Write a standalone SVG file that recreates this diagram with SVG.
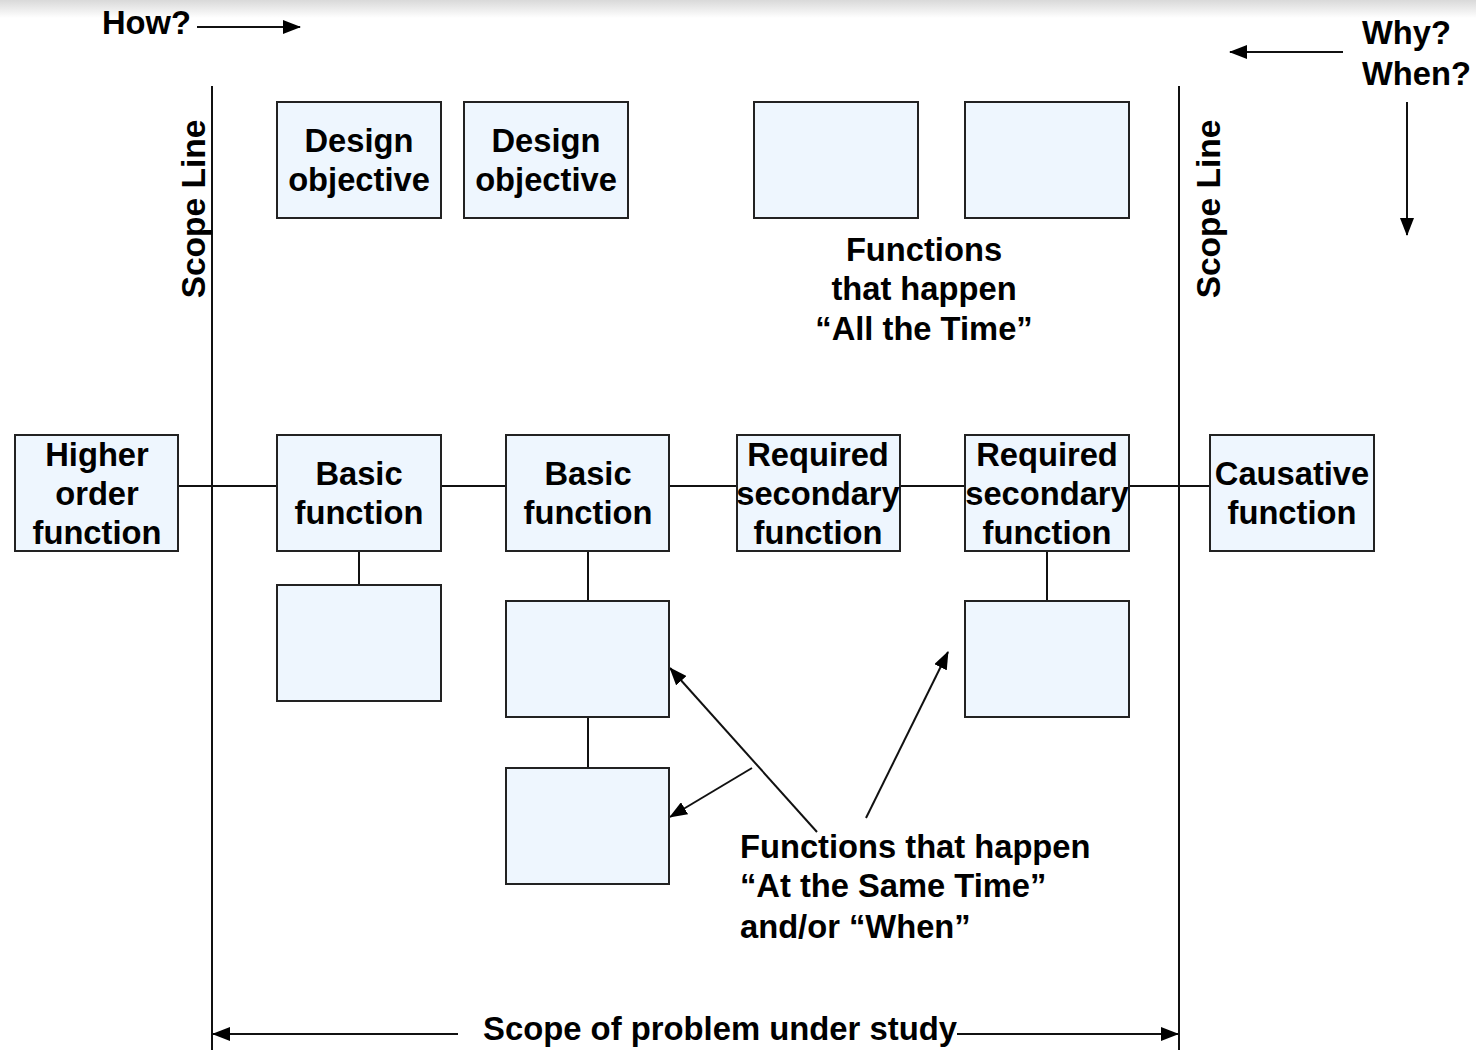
<svg xmlns="http://www.w3.org/2000/svg" width="1476" height="1050" viewBox="0 0 1476 1050">
  <defs>
    <linearGradient id="topShade" x1="0" y1="0" x2="0" y2="1">
      <stop offset="0" stop-color="#d9d9d9"/>
      <stop offset="1" stop-color="#ffffff"/>
    </linearGradient>
    <marker id="arrowL" viewBox="0 0 18 14" refX="17" refY="7" markerWidth="18" markerHeight="14" markerUnits="userSpaceOnUse" orient="auto-start-reverse">
      <path d="M0,0 L18,7 L0,14 z" fill="#000"/>
    </marker>
  </defs>
  <style>
    .box { fill: #eef6fe; stroke: #222; stroke-width: 2; }
    .t { font-family: "Liberation Sans", Arial, sans-serif; font-weight: bold; font-size: 32.7px; fill: #000; }
    .c { text-anchor: middle; }
    .ln { stroke: #111; stroke-width: 2; fill: none; }
    .ar { stroke: #111; stroke-width: 2; fill: none; marker-end: url(#arrowL); }
  </style>

  <rect width="1476" height="1050" fill="#fff"/>
  <rect width="1476" height="18" fill="url(#topShade)"/>

  <!-- scope lines -->
  <g id="scope-lines">
    <line class="ln" x1="212" y1="86" x2="212" y2="1050"/>
    <line class="ln" x1="1179" y1="86" x2="1179" y2="1050"/>
    <text class="t c" transform="translate(205,209) rotate(-90)" style="font-size:33.5px">Scope Line</text>
    <text class="t c" transform="translate(1220,209) rotate(-90)" style="font-size:33.5px">Scope Line</text>
  </g>

  <!-- direction cues -->
  <g id="how">
    <text class="t" x="102" y="34">How?</text>
    <line class="ar" x1="197" y1="27" x2="300" y2="27"/>
  </g>
  <g id="why-when">
    <text class="t" x="1362" y="44">Why?</text>
    <text class="t" x="1362" y="85">When?</text>
    <line class="ar" x1="1343" y1="52" x2="1230" y2="52"/>
    <line class="ar" x1="1407" y1="102" x2="1407" y2="235"/>
  </g>

  <!-- connectors -->
  <g id="connectors">
    <line class="ln" x1="178" y1="486" x2="1210" y2="486"/>
    <line class="ln" x1="359" y1="551" x2="359" y2="585"/>
    <line class="ln" x1="588" y1="551" x2="588" y2="601"/>
    <line class="ln" x1="588" y1="717" x2="588" y2="768"/>
    <line class="ln" x1="1047" y1="551" x2="1047" y2="601"/>
    <line class="ar" x1="817" y1="832" x2="670" y2="668"/>
    <line class="ar" x1="752" y1="768" x2="670" y2="817"/>
    <line class="ar" x1="866" y1="818" x2="948" y2="652"/>
    <line class="ar" x1="458" y1="1034" x2="213" y2="1034"/>
    <line class="ar" x1="957" y1="1034" x2="1178" y2="1034"/>
  </g>

  <!-- top row -->
  <g id="design-objective-1">
    <rect class="box" x="277" y="102" width="164" height="116"/>
    <text class="t c" x="359" y="152">Design</text>
    <text class="t c" x="359" y="191">objective</text>
  </g>
  <g id="design-objective-2">
    <rect class="box" x="464" y="102" width="164" height="116"/>
    <text class="t c" x="546" y="152">Design</text>
    <text class="t c" x="546" y="191">objective</text>
  </g>
  <g id="all-time-1">
    <rect class="box" x="754" y="102" width="164" height="116"/>
  </g>
  <g id="all-time-2">
    <rect class="box" x="965" y="102" width="164" height="116"/>
  </g>
  <g id="all-time-label">
    <text class="t c" x="924" y="261">Functions</text>
    <text class="t c" x="924" y="300">that happen</text>
    <text class="t c" x="924" y="340">“All the Time”</text>
  </g>

  <!-- main row -->
  <g id="higher-order">
    <rect class="box" x="15" y="435" width="163" height="116"/>
    <text class="t c" x="97" y="466">Higher</text>
    <text class="t c" x="97" y="505">order</text>
    <text class="t c" x="97" y="544">function</text>
  </g>
  <g id="basic-1">
    <rect class="box" x="277" y="435" width="164" height="116"/>
    <text class="t c" x="359" y="485">Basic</text>
    <text class="t c" x="359" y="524">function</text>
  </g>
  <g id="basic-2">
    <rect class="box" x="506" y="435" width="163" height="116"/>
    <text class="t c" x="588" y="485">Basic</text>
    <text class="t c" x="588" y="524">function</text>
  </g>
  <g id="required-1">
    <rect class="box" x="737" y="435" width="163" height="116"/>
    <text class="t c" x="818" y="466">Required</text>
    <text class="t c" x="818" y="505">secondary</text>
    <text class="t c" x="818" y="544">function</text>
  </g>
  <g id="required-2">
    <rect class="box" x="965" y="435" width="164" height="116"/>
    <text class="t c" x="1047" y="466">Required</text>
    <text class="t c" x="1047" y="505">secondary</text>
    <text class="t c" x="1047" y="544">function</text>
  </g>
  <g id="causative">
    <rect class="box" x="1210" y="435" width="164" height="116"/>
    <text class="t c" x="1292" y="485">Causative</text>
    <text class="t c" x="1292" y="524">function</text>
  </g>

  <!-- lower boxes -->
  <g id="sub-basic-1">
    <rect class="box" x="277" y="585" width="164" height="116"/>
  </g>
  <g id="sub-basic-2a">
    <rect class="box" x="506" y="601" width="163" height="116"/>
  </g>
  <g id="sub-basic-2b">
    <rect class="box" x="506" y="768" width="163" height="116"/>
  </g>
  <g id="sub-required-2">
    <rect class="box" x="965" y="601" width="164" height="116"/>
  </g>

  <g id="same-time-label">
    <text class="t" x="740" y="858">Functions that happen</text>
    <text class="t" x="740" y="897">“At the Same Time”</text>
    <text class="t" x="740" y="938">and/or “When”</text>
  </g>

  <g id="scope-label">
    <text class="t" x="483" y="1040" textLength="474" lengthAdjust="spacingAndGlyphs">Scope of problem under study</text>
  </g>
</svg>
